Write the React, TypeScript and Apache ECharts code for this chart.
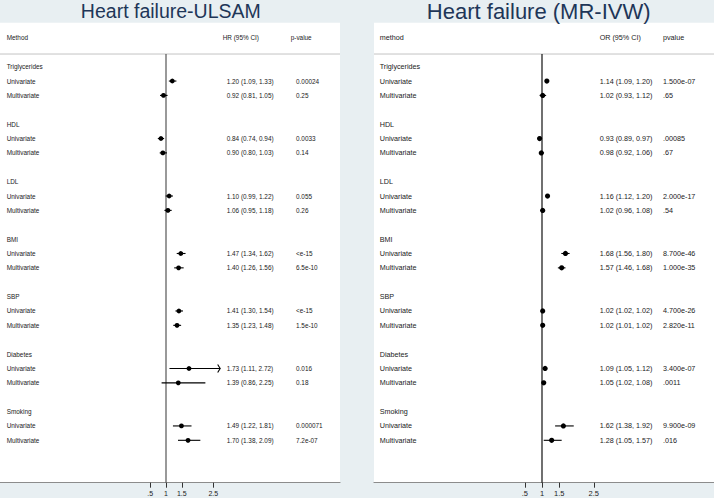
import React, { useEffect, useRef } from "react";
import * as echarts from "echarts";

// ---------- data ----------
const groups = ["Triglycerides", "HDL", "LDL", "BMI", "SBP", "Diabetes", "Smoking"];
const methods = ["Univariate", "Multivariate"];
const tickValues = [0.5, 1, 1.5, 2.5];
const tickLabels = [".5", "1", "1.5", "2.5"];

const ulsamEst = [1.2, 0.92, 0.84, 0.9, 1.1, 1.06, 1.47, 1.4, 1.41, 1.35, 1.73, 1.39, 1.49, 1.7];
const ulsamLo = [1.09, 0.81, 0.74, 0.8, 0.99, 0.95, 1.34, 1.26, 1.3, 1.23, 1.11, 0.86, 1.22, 1.38];
const ulsamHi = [1.33, 1.05, 0.94, 1.03, 1.22, 1.18, 1.62, 1.56, 1.54, 1.48, 2.72, 2.25, 1.81, 2.09];
const ulsamP = ["0.00024", "0.25", "0.0033", "0.14", "0.055", "0.26", "<e-15", "6.5e-10", "<e-15", "1.5e-10", "0.016", "0.18", "0.000071", "7.2e-07"];

const mrEst = [1.14, 1.02, 0.93, 0.98, 1.16, 1.02, 1.68, 1.57, 1.02, 1.02, 1.09, 1.05, 1.62, 1.28];
const mrLo = [1.09, 0.93, 0.89, 0.92, 1.12, 0.96, 1.56, 1.46, 1.02, 1.01, 1.05, 1.02, 1.38, 1.05];
const mrHi = [1.2, 1.12, 0.97, 1.06, 1.2, 1.08, 1.8, 1.68, 1.02, 1.02, 1.12, 1.08, 1.92, 1.57];
const mrP = ["1.500e-07", ".65", ".00085", ".67", "2.000e-17", ".54", "8.700e-46", "1.000e-35", "4.700e-26", "2.820e-11", "3.400e-07", ".0011", "9.900e-09", ".016"];

const leftTitle = "Heart failure-ULSAM";
const rightTitle = "Heart failure (MR-IVW)";
const leftHeaders = ["Method", "HR (95% CI)", "p-value"];
const rightHeaders = ["method", "OR (95% CI)", "pvalue"];

// ---------- helpers ----------
const FONT = "'Liberation Sans', Arial, Helvetica, sans-serif";
const rowOf = (i: number) => 4 * Math.floor(i / 2) + 1 + (i % 2);
const HEADER_ROW = -2;
const LINE_ROW = -0.88;
const Y_MIN = -3.06;
const Y_MAX = 28.95;

type PanelCfg = {
  idx: number;
  left: number;
  width: number;
  xMin: number;
  xMax: number;
  fontSize: number;
  labelSize: number;
  offLabel: number;
  offCiHead: number;
  offCi: number;
  offPHead: number;
  offP: number;
  headers: string[];
  est: number[];
  lo: number[];
  hi: number[];
  p: string[];
  refColor: string;
  radius: number;
};

function buildPanel(c: PanelCfg) {
  const grid = {
    left: c.left,
    width: c.width,
    top: 22.7,
    height: 460,
    show: true,
    backgroundColor: "#ffffff",
    borderWidth: 0,
  };
  const xAxis = {
    type: "value",
    gridIndex: c.idx,
    min: c.xMin,
    max: c.xMax,
    splitLine: { show: false },
    axisLine: { show: true, onZero: false, lineStyle: { color: "#8c8c8c", width: 1.2 } },
    axisTick: { show: true, length: 5, customValues: tickValues, lineStyle: { color: "#333", width: 1 } },
    axisLabel: {
      show: true,
      customValues: tickValues,
      margin: 7,
      fontSize: c.labelSize,
      fontFamily: FONT,
      color: "#222",
      formatter: (v: number) => {
        const k = tickValues.findIndex((t) => Math.abs(t - v) < 1e-9);
        return k >= 0 ? tickLabels[k] : "";
      },
    },
  };
  const yAxis = {
    type: "value",
    gridIndex: c.idx,
    inverse: true,
    min: Y_MIN,
    max: Y_MAX,
    show: false,
    splitLine: { show: false },
  };

  const textStyle = (x: number, y: number, text: string) => ({
    type: "text",
    x,
    y,
    style: {
      text,
      fill: "#1a1a1a",
      font: `${c.fontSize}px ${FONT}`,
      textAlign: "left",
      textVerticalAlign: "middle",
      verticalAlign: "middle",
    },
  });

  const frame = {
    type: "custom",
    xAxisIndex: c.idx,
    yAxisIndex: c.idx,
    clip: false,
    silent: true,
    data: [[1, LINE_ROW]],
    renderItem: (params: any, api: any) => {
      const cs = params.coordSys;
      const yLine = api.coord([1, LINE_ROW])[1];
      const yHead = api.coord([1, HEADER_ROW])[1];
      const xRef = api.coord([1, 0])[0];
      const yBottom = cs.y + cs.height;
      return {
        type: "group",
        children: [
          {
            type: "line",
            shape: { x1: cs.x, y1: yLine, x2: cs.x + cs.width, y2: yLine },
            style: { stroke: "#c4c4c4", lineWidth: 1 },
          },
          {
            type: "line",
            shape: { x1: xRef, y1: yLine, x2: xRef, y2: yBottom },
            style: { stroke: c.refColor, lineWidth: 1.2 },
          },
          textStyle(cs.x + c.offLabel, yHead, c.headers[0]),
          textStyle(cs.x + c.offCiHead, yHead, c.headers[1]),
          textStyle(cs.x + c.offPHead, yHead, c.headers[2]),
        ],
      };
    },
  };

  const rowData: any[] = [];
  groups.forEach((g, gi) => rowData.push({ value: [0, 4 * gi], kind: "g", text: g }));
  c.est.forEach((e, i) =>
    rowData.push({
      value: [0, rowOf(i)],
      kind: "r",
      text: methods[i % 2],
      ci: `${e.toFixed(2)} (${c.lo[i].toFixed(2)}, ${c.hi[i].toFixed(2)})`,
      p: c.p[i],
    })
  );

  const texts = {
    type: "custom",
    xAxisIndex: c.idx,
    yAxisIndex: c.idx,
    clip: false,
    silent: true,
    data: rowData.map((d) => d.value),
    renderItem: (params: any, api: any) => {
      const cs = params.coordSys;
      const d = rowData[params.dataIndex];
      const y = api.coord([0, api.value(1)])[1];
      const children: any[] = [textStyle(cs.x + c.offLabel, y, d.text)];
      if (d.kind === "r") {
        children.push(textStyle(cs.x + c.offCi, y, d.ci));
        children.push(textStyle(cs.x + c.offP, y, d.p));
      }
      return { type: "group", children };
    },
  };

  const arrowLimit = tickValues[tickValues.length - 1];
  const marks = {
    type: "custom",
    xAxisIndex: c.idx,
    yAxisIndex: c.idx,
    clip: false,
    silent: true,
    data: c.est.map((e, i) => [e, c.lo[i], c.hi[i], rowOf(i)]),
    encode: { x: [0, 1, 2], y: 3 },
    renderItem: (params: any, api: any) => {
      const row = api.value(3);
      const pt = api.coord([api.value(0), row]);
      const pl = api.coord([api.value(1), row]);
      const ph = api.coord([api.value(2), row]);
      const children: any[] = [
        {
          type: "line",
          shape: { x1: pl[0], y1: pl[1], x2: ph[0], y2: ph[1] },
          style: { stroke: "#000", lineWidth: 1.1 },
        },
        {
          type: "circle",
          shape: { cx: pt[0], cy: pt[1], r: c.radius },
          style: { fill: "#000" },
        },
      ];
      if (api.value(2) > arrowLimit) {
        children.push({
          type: "polyline",
          shape: {
            points: [
              [ph[0] - 2.5, ph[1] - 4],
              [ph[0], ph[1]],
              [ph[0] - 2.5, ph[1] + 4],
            ],
          },
          style: { stroke: "#000", lineWidth: 1.1, fill: "none" },
        });
      }
      return { type: "group", children };
    },
  };

  return { grid, xAxis, yAxis, series: [frame, texts, marks] };
}

export default function App() {
  const ref = useRef<HTMLDivElement>(null);
  useEffect(() => {
    if (!ref.current) return;
    const chart = echarts.init(ref.current, undefined, { renderer: "svg" });
    const L = buildPanel({
      idx: 0,
      left: 0,
      width: 340,
      xMin: 1 - 166 / 31.5,
      xMax: 1 + 174 / 31.5,
      fontSize: 6.4,
      labelSize: 7,
      offLabel: 6.7,
      offCiHead: 222.7,
      offCi: 226.7,
      offPHead: 290.7,
      offP: 296,
      headers: leftHeaders,
      est: ulsamEst,
      lo: ulsamLo,
      hi: ulsamHi,
      p: ulsamP,
      refColor: "#555",
      radius: 2.4,
    });
    const R = buildPanel({
      idx: 1,
      left: 374,
      width: 340,
      xMin: 1 - 168 / 34.5,
      xMax: 1 + 172 / 34.5,
      fontSize: 7.2,
      labelSize: 7.5,
      offLabel: 5.7,
      offCiHead: 225.7,
      offCi: 225.7,
      offPHead: 289,
      offP: 289,
      headers: rightHeaders,
      est: mrEst,
      lo: mrLo,
      hi: mrHi,
      p: mrP,
      refColor: "#111",
      radius: 2.6,
    });
    chart.setOption({
      animation: false,
      backgroundColor: "#e8eff2",
      title: [
        {
          text: leftTitle,
          left: 170.8,
          top: 11,
          textAlign: "center",
          textVerticalAlign: "middle",
          textStyle: { fontFamily: FONT, fontSize: 19.5, fontWeight: "normal", color: "#1e3658" },
          padding: 0,
        },
        {
          text: rightTitle,
          left: 538.7,
          top: 11,
          textAlign: "center",
          textVerticalAlign: "middle",
          textStyle: { fontFamily: FONT, fontSize: 22, fontWeight: "normal", color: "#1e3658" },
          padding: 0,
        },
      ],
      grid: [L.grid, R.grid],
      xAxis: [L.xAxis, R.xAxis],
      yAxis: [L.yAxis, R.yAxis],
      series: [...L.series, ...R.series],
    });
    return () => chart.dispose();
  }, []);
  return (
    <div
      ref={ref}
      style={{ position: "absolute", left: 0, top: 0, width: 714, height: 498 }}
    />
  );
}
